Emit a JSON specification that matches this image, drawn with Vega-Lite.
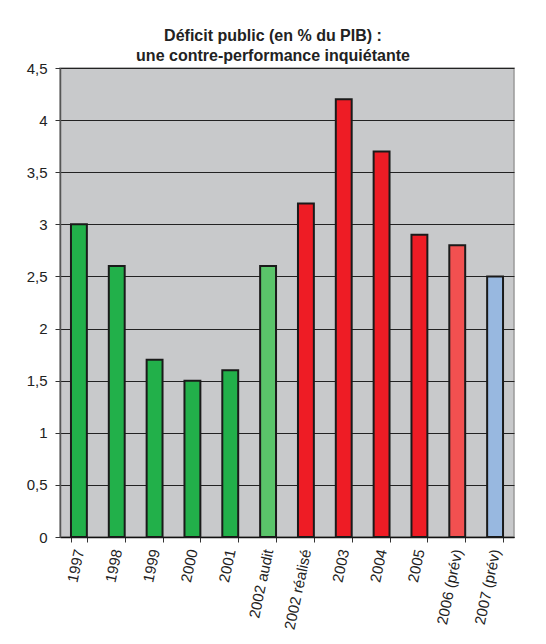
{
  "$schema": "https://vega.github.io/schema/vega-lite/v6.json",
  "width": 454,
  "height": 469,
  "autosize": "none",
  "padding": {"left": 60, "top": 68, "right": 32, "bottom": 107},
  "background": "white",
  "title": {
    "text": ["Déficit public (en % du PIB) :", "une contre-performance inquiétante"],
    "font": "Liberation Sans",
    "fontSize": 16,
    "fontWeight": "bold",
    "color": "#222222",
    "anchor": "middle",
    "frame": "group",
    "dx": -14,
    "offset": -3,
    "lineHeight": 20
  },
  "data": {
    "values": [
      {"annee": "1997", "deficit": 3.0, "groupe": "réalisé"},
      {"annee": "1998", "deficit": 2.6, "groupe": "réalisé"},
      {"annee": "1999", "deficit": 1.7, "groupe": "réalisé"},
      {"annee": "2000", "deficit": 1.5, "groupe": "réalisé"},
      {"annee": "2001", "deficit": 1.6, "groupe": "réalisé"},
      {"annee": "2002 audit", "deficit": 2.6, "groupe": "audit"},
      {"annee": "2002 réalisé", "deficit": 3.2, "groupe": "hausse"},
      {"annee": "2003", "deficit": 4.2, "groupe": "hausse"},
      {"annee": "2004", "deficit": 3.7, "groupe": "hausse"},
      {"annee": "2005", "deficit": 2.9, "groupe": "hausse"},
      {"annee": "2006 (prév)", "deficit": 2.8, "groupe": "prévision 2006"},
      {"annee": "2007 (prév)", "deficit": 2.5, "groupe": "prévision 2007"}
    ]
  },
  "mark": {"type": "bar", "stroke": "#1a1a1a", "strokeWidth": 2},
  "encoding": {
    "x": {
      "field": "annee",
      "type": "nominal",
      "sort": null,
      "scale": {"paddingInner": 0.58, "paddingOuter": 0.29},
      "axis": {
        "title": null,
        "labelAngle": -78,
        "labelAlign": "right",
        "labelBaseline": "middle",
        "labelPadding": 7,
        "tickBand": "extent",
        "tickSize": 5,
        "domainColor": "#111111",
        "domainWidth": 1.5,
        "tickColor": "#333333"
      }
    },
    "y": {
      "field": "deficit",
      "type": "quantitative",
      "scale": {"domain": [0, 4.5], "nice": false},
      "axis": {
        "title": null,
        "values": [0, 0.5, 1, 1.5, 2, 2.5, 3, 3.5, 4, 4.5],
        "labelExpr": "replace(format(datum.value, ''), '.', ',')",
        "labelPadding": 8,
        "tickSize": 5,
        "grid": true,
        "gridColor": "#222222",
        "gridWidth": 1,
        "domainColor": "#555555",
        "domainWidth": 1.5,
        "tickColor": "#333333"
      }
    },
    "color": {
      "field": "groupe",
      "type": "nominal",
      "scale": {
        "domain": ["réalisé", "audit", "hausse", "prévision 2006", "prévision 2007"],
        "range": ["#22b04a", "#5ac46a", "#ee1c25", "#f25050", "#98b8e0"]
      },
      "legend": null
    }
  },
  "config": {
    "view": {"fill": "#c8c9cb", "stroke": "#9a9a9a", "strokeWidth": 1.5},
    "axis": {
      "labelFont": "Liberation Sans",
      "labelFontSize": 15,
      "labelColor": "#222222",
      "labelOverlap": false
    }
  }
}
